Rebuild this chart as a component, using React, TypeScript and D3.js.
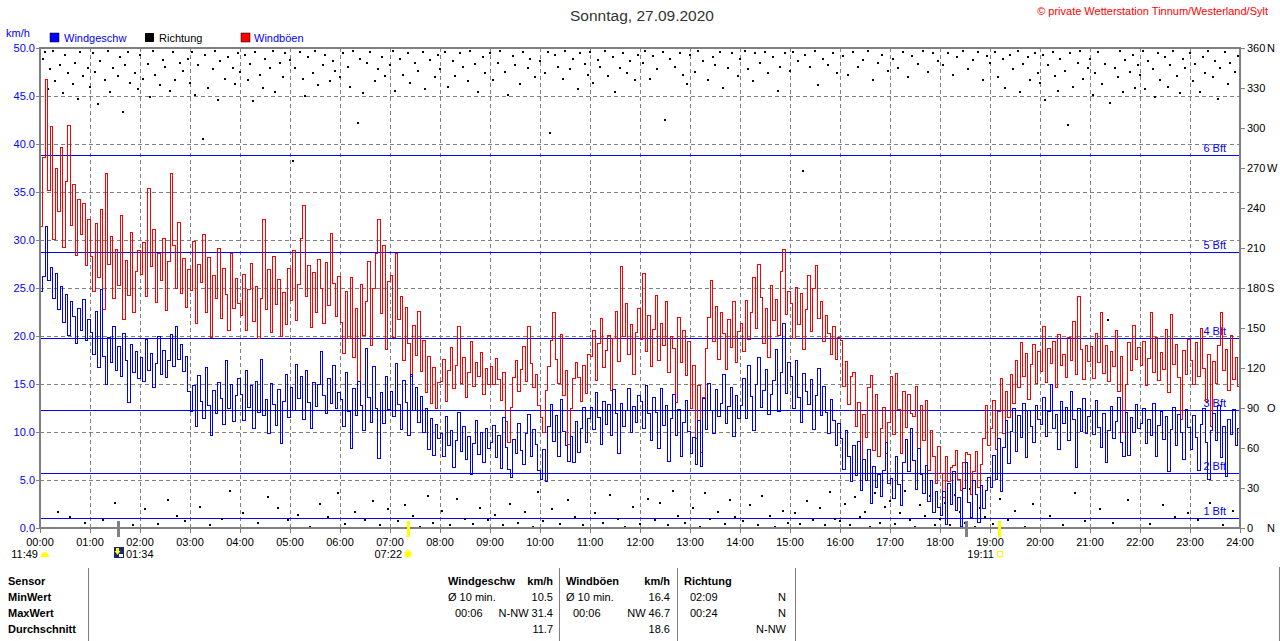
import React from 'react';
import * as d3 from 'd3';

// ---------- data ----------
const stepMinutes = 3;
const hourLabels = ['00:00','01:00','02:00','03:00','04:00','05:00','06:00','07:00','08:00','09:00','10:00','11:00','12:00','13:00','14:00','15:00','16:00','17:00','18:00','19:00','20:00','21:00','22:00','23:00','24:00'];
const speedTicks = [0, 5, 10, 15, 20, 25, 30, 35, 40, 45, 50];
const dirTicks = [0, 30, 60, 90, 120, 150, 180, 210, 240, 270, 300, 330, 360];
const dirTickLetters = ['N', '', '', 'O', '', '', 'S', '', '', 'W', '', '', 'N'];
const bftValues = [1.08, 5.76, 12.24, 19.8, 28.8, 38.88];
const bftLabels = ['1 Bft', '2 Bft', '3 Bft', '4 Bft', '5 Bft', '6 Bft'];

// wind speed km/h, one value every 3 minutes (20 per hour)
const windSpeed = [
  24.6, 26.2, 31.4, 25.8, 27.1, 23.9, 26.5, 22.8, 25.2, 21.4, 24.3, 20.1, 23.6, 22.0, 19.2, 22.9, 20.6, 23.8, 19.5, 21.7,
  20.4, 18.1, 22.6, 16.7, 24.8, 17.9, 15.0, 19.8, 17.2, 21.0, 16.4, 18.9, 15.8, 20.3, 17.5, 13.1, 19.1, 16.2, 18.4, 15.6,
  17.8, 15.3, 19.6, 16.4, 18.2, 14.6, 17.1, 19.9, 16.0, 18.5, 15.7, 17.4, 20.2, 16.8, 21.0, 17.6, 19.1, 16.3, 17.9, 14.2,
  12.1, 14.8, 10.6, 15.9, 13.2, 11.4, 16.7, 12.8, 9.6, 14.3, 11.9, 15.2, 13.5, 10.8, 17.4, 12.4, 14.9, 11.1, 13.8, 15.6,
  13.9, 11.2, 16.4, 12.6, 14.8, 10.4, 15.3, 12.0, 17.6, 11.7, 13.4, 9.8, 15.1, 12.9, 10.7, 14.4, 8.8, 13.2, 16.0, 11.5,
  14.6, 12.2, 17.0, 13.5, 15.8, 11.3, 16.4, 13.1, 10.4, 15.2, 12.7, 14.9, 18.4, 13.8, 11.9, 15.6, 13.0, 16.9, 12.4, 14.1,
  13.4, 10.6, 16.2, 12.1, 8.3, 14.5, 11.7, 15.3, 12.8, 10.2, 18.7, 13.6, 11.0, 16.8, 12.5, 7.2, 14.1, 10.9, 15.8, 12.3,
  14.2, 11.6, 17.1, 12.9, 10.3, 15.4, 13.1, 9.6, 16.0, 12.2, 14.6, 11.0, 13.7, 9.9, 12.5, 8.2, 11.4, 7.6, 10.8, 9.3,
  9.8, 7.4, 11.6, 8.6, 10.2, 6.3, 9.1, 12.0, 8.0, 10.6, 7.1, 9.5, 5.6, 8.8, 11.2, 7.7, 9.9, 6.8, 10.4, 8.3,
  8.9, 10.7, 7.3, 9.6, 6.2, 11.5, 8.4, 6.1, 5.3, 9.2, 7.8, 10.9, 8.1, 6.6, 9.8, 11.8, 7.5, 10.3, 8.7, 6.0,
  5.1, 8.2, 4.8, 10.6, 12.9, 9.0, 11.7, 7.4, 13.4, 10.1, 8.6, 6.9, 9.5, 6.8, 11.1, 7.9, 10.4, 12.6, 8.9, 11.4,
  12.6, 10.3, 14.1, 11.5, 8.7, 13.2, 10.8, 12.9, 9.6, 14.4, 11.9, 7.8, 13.0, 10.6, 12.2, 14.5, 9.9, 12.7, 11.0, 13.8,
  13.2, 10.4, 14.8, 11.9, 9.1, 13.6, 12.0, 8.3, 14.5, 10.7, 12.8, 6.9, 11.4, 13.9, 9.6, 12.3, 7.5, 11.0, 13.3, 10.1,
  7.8, 9.4, 6.6, 11.2, 6.4, 13.5, 10.3, 15.1, 12.2, 9.8, 14.4, 11.6, 13.0, 16.0, 10.9, 12.7, 14.6, 9.5, 13.8, 11.4,
  12.8, 15.6, 11.4, 16.9, 13.7, 10.2, 15.0, 17.8, 12.6, 14.3, 16.5, 11.8, 13.9, 15.4, 18.6, 12.1, 16.2, 21.3, 14.0, 17.2,
  15.8, 12.4, 17.4, 13.6, 11.0, 16.1, 14.2, 12.9, 15.5, 10.3, 13.8, 16.6, 11.7, 14.7, 12.0, 9.8, 13.4, 11.2, 8.6, 10.9,
  9.3, 6.1, 10.2, 7.4, 4.8, 8.6, 5.5, 9.0, 3.9, 7.1, 5.0, 8.2, 2.6, 6.4, 4.2, 5.6, 3.3, 6.0, 8.9, 4.6,
  5.2, 3.1, 7.4, 4.5, 2.3, 6.8, 9.2, 5.9, 10.4, 7.0, 4.0, 8.3, 5.6, 3.6, 6.5, 2.8, 4.9, 1.6, 3.8, 2.1,
  1.3, 3.8, 0.4, 4.6, 2.5, 5.9, 1.8, 3.2, 0.2, 4.1, 6.8, 2.7, 1.1, 5.0, 3.5, 0.6, 4.4, 2.0, 3.9, 5.3,
  4.2, 7.6, 5.1, 9.3, 3.8, 8.4, 11.2, 6.7, 10.1, 12.5, 8.0, 11.7, 9.4, 13.0, 7.3, 12.2, 10.6, 8.9, 12.8, 11.3,
  10.8, 13.6, 9.5, 12.1, 14.9, 10.4, 11.8, 8.2, 13.2, 10.9, 12.6, 9.1, 14.2, 11.3, 6.3, 12.4, 10.1, 13.5, 9.8, 11.6,
  12.2, 9.7, 13.3, 10.5, 8.4, 11.9, 6.8, 10.2, 12.7, 9.3, 11.1, 13.6, 8.9, 7.4, 12.0, 7.6, 11.5, 9.9, 12.9, 10.4,
  10.9, 12.4, 8.8, 11.3, 9.6, 13.0, 7.4, 10.7, 12.1, 9.2, 11.6, 5.9, 10.3, 12.6, 8.6, 11.8, 9.9, 7.1, 12.3, 10.5,
  8.2, 11.7, 9.4, 6.0, 10.8, 12.5, 8.9, 5.1, 10.2, 11.9, 9.1, 12.8, 7.3, 10.6, 5.4, 11.3, 9.7, 12.3, 8.6, 10.4,
];

// wind gusts km/h, one value every 3 minutes
const windGust = [
  31.4, 38.6, 46.7, 35.2, 41.8, 30.1, 37.4, 33.0, 39.6, 29.2, 36.1, 41.9, 31.5, 35.8, 28.4, 34.2, 30.6, 33.8, 27.3, 32.1,
  28.3, 24.6, 31.7, 26.1, 33.2, 22.8, 36.9, 27.5, 30.4, 23.9, 29.0, 25.3, 32.6, 21.7, 27.9, 24.2, 30.8, 22.5, 26.7, 28.9,
  26.4, 29.7, 24.1, 35.4, 27.2, 31.1, 23.5, 28.6, 25.8, 30.2, 22.7, 27.8, 36.9, 29.4, 25.0, 31.8, 24.4, 28.1, 23.0, 26.9,
  24.7, 29.8, 21.3, 27.4, 25.6, 30.6, 22.5, 28.2, 19.8, 26.3, 23.9, 29.1, 21.8, 27.0, 24.3, 20.6, 28.6, 22.9, 26.0, 23.4,
  22.1, 26.4, 20.6, 24.8, 27.6, 21.5, 25.2, 19.7, 23.9, 32.1, 22.8, 26.9, 20.4, 28.3, 23.3, 25.9, 19.9, 24.5, 21.2, 27.0,
  23.7, 28.9, 21.6, 25.4, 30.2, 33.6, 24.1, 27.3, 20.9, 26.6, 22.4, 28.0, 24.9, 21.3, 27.7, 23.2, 30.7, 25.5, 22.0, 26.2,
  21.4, 18.2, 24.6, 19.7, 26.1, 17.8, 22.9, 15.3, 25.4, 20.1, 23.6, 27.8, 19.0, 24.9, 28.6, 32.1, 22.3, 29.4, 18.6, 25.7,
  26.3, 19.8, 28.6, 21.7, 24.1, 17.4, 23.0, 19.2, 15.8, 21.1, 18.0, 22.6, 16.3, 19.5, 14.1, 17.9, 13.0, 16.7, 12.4, 15.2,
  15.3, 17.6, 13.2, 16.4, 18.8, 14.5, 16.9, 21.0, 15.1, 17.8, 13.6, 16.2, 19.4, 14.7, 17.2, 15.8, 18.3, 13.9, 16.6, 15.0,
  16.8, 14.9, 17.7, 15.5, 13.3, 16.2, 11.1, 8.9, 12.6, 15.7, 17.4, 14.2, 16.5, 18.9, 15.3, 21.0, 17.1, 14.6, 16.0, 12.8,
  11.5, 9.9, 14.3, 16.8, 19.5, 22.4, 17.6, 15.1, 20.2, 13.8, 16.4, 8.7, 12.5, 15.6, 17.2, 15.7, 13.2, 16.9, 14.0, 18.1,
  17.9, 20.6, 15.4, 19.2, 21.8, 16.7, 18.5, 20.1, 14.3, 19.7, 22.6, 17.3, 27.2, 19.9, 23.4, 18.1, 21.2, 16.0, 20.4, 22.9,
  19.6, 26.5, 18.4, 22.1, 16.8, 20.7, 24.2, 17.5, 21.3, 19.0, 23.6, 16.2, 20.0, 18.7, 13.1, 21.9, 17.2, 20.6, 15.9, 19.4,
  12.4, 16.9, 9.3, 14.8, 7.9, 13.6, 18.7, 21.9, 25.8, 19.4, 23.1, 17.6, 22.4, 20.3, 16.5, 21.7, 18.8, 23.6, 17.2, 20.5,
  21.3, 18.4, 23.7, 19.6, 22.5, 26.1, 20.8, 27.4, 24.0, 19.2, 22.9, 17.8, 25.3, 21.6, 23.8, 20.1, 26.7, 29.0, 22.2, 24.6,
  23.4, 19.7, 25.1, 21.2, 24.4, 18.6, 22.8, 26.3, 20.5, 24.9, 27.3, 21.8, 23.6, 19.4, 22.1, 20.3, 18.1, 21.0, 17.6, 19.8,
  19.5, 14.7, 17.3, 12.9, 15.8, 16.2, 10.6, 13.1, 5.0, 11.8, 9.4, 14.6, 15.9, 8.1, 13.9, 7.4, 10.4, 12.6, 7.8, 11.0,
  15.8, 9.7, 16.1, 12.3, 7.8, 14.2, 10.5, 13.9, 11.9, 11.6, 14.7, 8.3, 12.8, 9.1, 13.3, 6.0, 10.2, 7.4, 4.6, 8.5,
  5.7, 3.2, 7.4, 4.8, 6.3, 6.5, 8.1, 5.1, 3.9, 6.8, 7.9, 7.7, 3.5, 5.9, 8.0, 4.2, 6.6, 9.3, 12.8, 8.6,
  10.4, 13.3, 8.2, 12.1, 15.6, 9.8, 14.2, 11.5, 16.0, 13.0, 17.4, 14.6, 19.3, 15.8, 18.2, 13.4, 17.0, 19.1, 15.1, 18.4,
  16.3, 21.0, 15.2, 18.7, 17.1, 19.4, 14.6, 20.2, 16.9, 18.1, 15.7, 19.8, 17.4, 21.5, 16.0, 24.1, 18.6, 15.5, 19.0, 17.3,
  18.9, 15.6, 20.3, 17.2, 22.4, 16.1, 19.0, 15.3, 18.4, 16.8, 20.6, 14.2, 17.9, 9.9, 15.0, 19.3, 16.4, 21.1, 17.6, 18.8,
  16.9, 19.4, 14.8, 17.7, 22.5, 16.2, 19.8, 15.4, 18.3, 16.5, 20.7, 14.1, 22.2, 17.0, 19.1, 15.7, 11.3, 18.5, 16.0, 19.6,
  17.4, 14.9, 19.3, 15.8, 20.8, 16.6, 13.2, 18.1, 10.6, 17.3, 15.1, 19.0, 22.4, 16.4, 18.6, 14.3, 20.1, 15.5, 17.8, 14.7,
];

// wind direction in degrees, one value every 3 minutes
const windDir = [
  338, 352, 357, 329, 344, 358, 335, 12, 347, 326, 355, 341, 8, 333, 349, 322, 357, 339, 4, 345,
  331, 356, 342, 318, 350, 6, 336, 358, 327, 345, 19, 339, 353, 312, 347, 357, 334, 2, 341, 329,
  355, 337, 14, 348, 323, 358, 340, 3, 332, 351, 346, 21, 328, 357, 336, 9, 349, 343, 5, 352,
  334, 357, 325, 347, 16, 292, 355, 330, 2, 344, 358, 321, 350, 7, 337, 353, 28, 345, 333, 356,
  342, 11, 355, 336, 348, 320, 357, 4, 340, 330, 352, 23, 345, 358, 327, 15, 349, 338, 356, 6,
  351, 275, 345, 10, 357, 337, 324, 353, 1, 341, 358, 332, 18, 347, 355, 8, 335, 350, 343, 26,
  338, 356, 3, 346, 331, 358, 12, 304, 352, 326, 6, 349, 357, 20, 335, 344, 2, 353, 339, 14,
  347, 358, 328, 5, 352, 340, 17, 356, 334, 9, 349, 343, 1, 357, 329, 24, 351, 4, 338, 355,
  344, 13, 357, 331, 2, 350, 339, 22, 356, 346, 7, 335, 358, 3, 348, 327, 15, 353, 341, 6,
  356, 336, 10, 349, 358, 2, 342, 325, 18, 354, 347, 4, 333, 357, 12, 345, 352, 1, 338, 27,
  350, 5, 341, 357, 296, 14, 355, 346, 3, 337, 358, 21, 344, 352, 8, 329, 356, 2, 348, 340,
  357, 334, 11, 351, 346, 4, 358, 339, 25, 353, 327, 7, 345, 356, 1, 341, 350, 16, 336, 355,
  3, 349, 358, 22, 337, 354, 6, 344, 19, 357, 306, 2, 352, 28, 346, 9, 356, 340, 4, 333,
  355, 15, 342, 358, 1, 350, 26, 336, 7, 353, 347, 12, 357, 330, 3, 345, 21, 356, 8, 339,
  352, 5, 358, 344, 17, 335, 356, 2, 349, 24, 357, 341, 9, 353, 1, 328, 346, 13, 356, 4,
  343, 357, 11, 350, 3, 268, 355, 20, 346, 6, 358, 332, 15, 352, 2, 347, 27, 356, 7, 341,
  5, 354, 18, 340, 2, 357, 23, 346, 8, 351, 12, 358, 1, 336, 26, 349, 4, 355, 16, 343,
  20, 352, 3, 345, 11, 357, 28, 338, 6, 354, 1, 348, 17, 358, 9, 342, 24, 356, 2, 350,
  7, 347, 19, 356, 2, 340, 25, 353, 12, 358, 4, 344, 29, 351, 1, 357, 15, 336, 8, 354,
  349, 3, 357, 338, 22, 352, 330, 6, 355, 344, 13, 358, 327, 348, 1, 353, 336, 18, 356, 341,
  334, 355, 321, 347, 9, 357, 339, 328, 352, 2, 343, 302, 356, 331, 26, 349, 358, 337, 5, 345,
  352, 325, 341, 357, 14, 333, 348, 156, 319, 4, 345, 338, 358, 327, 351, 21, 342, 355, 330, 347,
  340, 358, 329, 350, 3, 344, 323, 356, 336, 17, 353, 331, 347, 358, 8, 339, 326, 352, 345, 11,
  356, 335, 348, 6, 327, 353, 341, 358, 19, 338, 350, 322, 345, 2, 357, 333, 349, 13, 342, 354,
];

// sun / moon events (minutes of day)
const astroTickMinutes = [94, 442, 1111, 1151];
const astroTickColors = ['#808080', '#FFFF00', '#808080', '#FFFF00'];

const tableRowLabels = ['Sensor', 'MinWert', 'MaxWert', 'Durchschnitt'];
const speedCol = [['Ø 10 min.', '10.5'], ['00:06', 'N-NW 31.4'], ['', '11.7']];
const gustCol = [['Ø 10 min.', '16.4'], ['00:06', 'NW 46.7'], ['', '18.6']];
const dirCol = [['02:09', 'N'], ['00:24', 'N'], ['', 'N-NW']];

// ---------- layout ----------
const W = 1280;
const H = 641;
const L = 40, R = 1240, T = 48, B = 528;
const FONT = '"Liberation Sans", Arial, sans-serif';
const BLUE = '#0000FF';
const GRAY = '#808080';

export default function App() {
  const x = d3.scaleLinear().domain([0, 1440]).range([L, R]);
  const y = d3.scaleLinear().domain([0, 50]).range([B, T]);
  const yd = d3.scaleLinear().domain([0, 360]).range([B, T]);

  const line = d3
    .line<number>()
    .x((_, i) => x(Math.min(i * stepMinutes, 1440)))
    .y((d) => y(d))
    .curve(d3.curveStepAfter);

  const speedPath = line([...windSpeed, windSpeed[windSpeed.length - 1]]) || '';
  const gustPath = line([...windGust, windGust[windGust.length - 1]]) || '';

  const rowY = [585, 601, 617, 633];

  return (
    <svg
      width={W}
      height={H}
      viewBox={`0 0 ${W} ${H}`}
      style={{ position: 'absolute', left: 0, top: 0, background: '#fff', fontFamily: FONT }}
    >
      <rect x={0} y={0} width={W} height={H} fill="#fff" />
      {/* title & copyright */}
      <text x={642} y={21} textAnchor="middle" fontSize={15.5} fill="#333">Sonntag, 27.09.2020</text>
      <text x={1268} y={15} textAnchor="end" fontSize={11} fill="#FF0000">© private Wetterstation Tinnum/Westerland/Sylt</text>

      {/* unit and legend */}
      <text x={6} y={37} fontSize={11} fill={BLUE}>km/h</text>
      <rect x={50} y={33} width={9} height={9} fill={BLUE} stroke="#000" strokeWidth={0.5} />
      <text x={64} y={42} fontSize={11} fill={BLUE}>Windgeschw</text>
      <rect x={145} y={33} width={9} height={9} fill="#000" />
      <text x={159} y={42} fontSize={11} fill="#000">Richtung</text>
      <rect x={241} y={33} width={9} height={9} fill="#FF0000" stroke="#000" strokeWidth={0.5} />
      <text x={254} y={42} fontSize={11} fill={BLUE}>Windböen</text>

      {/* grid */}
      <g stroke={GRAY} strokeWidth={1} strokeDasharray="4 3" shapeRendering="crispEdges">
        {speedTicks.slice(1, -1).map((v) => (
          <line key={`h${v}`} x1={L} x2={R} y1={Math.round(y(v)) + 0.5} y2={Math.round(y(v)) + 0.5} />
        ))}
        {hourLabels.slice(1, -1).map((_, i) => {
          const xx = Math.round(x((i + 1) * 60)) + 0.5;
          return <line key={`v${i}`} x1={xx} x2={xx} y1={T} y2={B} />;
        })}
      </g>

      {/* Beaufort lines */}
      <g shapeRendering="crispEdges">
        {bftValues.map((v, i) => (
          <g key={`b${i}`}>
            <line x1={L} x2={R} y1={Math.round(y(v)) + 0.5} y2={Math.round(y(v)) + 0.5} stroke={BLUE} strokeWidth={1} />
            <text x={1226} y={Math.round(y(v)) - 3} textAnchor="end" fontSize={11} fill={BLUE}>{bftLabels[i]}</text>
          </g>
        ))}
      </g>

      {/* direction dots */}
      <g fill="#000" shapeRendering="crispEdges">
        {windDir.map((v, i) => (
          <rect key={`d${i}`} x={Math.round(x(i * stepMinutes)) - 1} y={Math.round(yd(v)) - 1} width={2} height={2} />
        ))}
      </g>

      {/* gust and speed lines */}
      <path d={gustPath} fill="none" stroke="#FF0000" strokeWidth={1} shapeRendering="crispEdges" />
      <path d={speedPath} fill="none" stroke={BLUE} strokeWidth={1} shapeRendering="crispEdges" />

      {/* frame */}
      <g stroke={GRAY} strokeWidth={2} shapeRendering="crispEdges" fill="none">
        <line x1={L - 1} x2={R + 1} y1={T} y2={T} />
        <line x1={L - 1} x2={R + 1} y1={B} y2={B} />
        <line x1={L} x2={L} y1={T} y2={B + 1} />
        <line x1={R} x2={R} y1={T} y2={B + 1} />
      </g>

      {/* left axis */}
      {speedTicks.map((v) => (
        <g key={`lt${v}`}>
          <line x1={36} x2={L} y1={Math.round(y(v)) + 0.5} y2={Math.round(y(v)) + 0.5} stroke={GRAY} shapeRendering="crispEdges" />
          <text x={35} y={y(v) + 4} textAnchor="end" fontSize={11} fill={BLUE}>{v.toFixed(1)}</text>
        </g>
      ))}

      {/* right axis */}
      {dirTicks.map((v, i) => (
        <g key={`rt${v}`}>
          <line x1={R} x2={R + 5} y1={Math.round(yd(v)) + 0.5} y2={Math.round(yd(v)) + 0.5} stroke={GRAY} shapeRendering="crispEdges" />
          <text x={R + 7} y={yd(v) + 4} fontSize={11} fill="#000">{v}</text>
          {dirTickLetters[i] && (
            <text x={1267} y={yd(v) + 4} fontSize={11} fill="#000">{dirTickLetters[i]}</text>
          )}
        </g>
      ))}

      {/* x axis */}
      {hourLabels.map((h, i) => {
        const xx = Math.round(x(i * 60)) + 0.5;
        return (
          <g key={`x${i}`}>
            <line x1={xx} x2={xx} y1={B} y2={B + 5} stroke={GRAY} shapeRendering="crispEdges" />
            <text x={x(i * 60)} y={546} textAnchor="middle" fontSize={11} fill="#000">{h}</text>
          </g>
        );
      })}

      {/* sun / moon ticks */}
      {astroTickMinutes.map((m, i) => (
        <line key={`a${i}`} x1={Math.round(x(m)) + 0.5} x2={Math.round(x(m)) + 0.5} y1={521} y2={537} stroke={astroTickColors[i]} strokeWidth={3} shapeRendering="crispEdges" />
      ))}
      {/* 11:49 */}
      <text x={38} y={558} textAnchor="end" fontSize={11} fill="#000">11:49</text>
      <path d="M41,557 L41,555 Q45,549 49,555 L49,557 Z" fill="#FFFF00" />
      {/* 01:34 */}
      <rect x={114} y={547} width={10} height={11} fill="#1a237e" />
      <path d="M116,548 L119,548 L119,551 L120.5,551 L117.5,555 L114.5,551 L116,551 Z" fill="#FFFF00" />
      <rect x={119} y={554} width={4} height={3} fill="#fff" />
      <text x={126} y={558} fontSize={11} fill="#000">01:34</text>
      {/* 07:22 */}
      <text x={402} y={558} textAnchor="end" fontSize={11} fill="#000">07:22</text>
      <circle cx={408} cy={554} r={4.5} fill="#FFFFA0" />
      <circle cx={408} cy={554} r={3} fill="#FFFF00" />
      {/* 19:11 */}
      <text x={994} y={558} textAnchor="end" fontSize={11} fill="#000">19:11</text>
      <rect x={997.5} y={551.5} width={5} height={5} fill="none" stroke="#FFFF00" strokeWidth={1} />

      {/* summary table */}
      <g stroke={GRAY} strokeWidth={1} shapeRendering="crispEdges">
        <line x1={88.5} x2={88.5} y1={568} y2={641} />
        <line x1={559.5} x2={559.5} y1={568} y2={641} />
        <line x1={677.5} x2={677.5} y1={568} y2={641} />
        <line x1={795.5} x2={795.5} y1={568} y2={641} />
        <line x1={1279.5} x2={1279.5} y1={567} y2={641} />
      </g>
      {tableRowLabels.map((t, i) => (
        <text key={`rl${i}`} x={8} y={rowY[i]} fontSize={11} fontWeight="bold" fill="#000">{t}</text>
      ))}
      <text x={448} y={rowY[0]} fontSize={11} fontWeight="bold" fill="#000">Windgeschw</text>
      <text x={553} y={rowY[0]} fontSize={11} fontWeight="bold" fill="#000" textAnchor="end">km/h</text>
      <text x={566} y={rowY[0]} fontSize={11} fontWeight="bold" fill="#000">Windböen</text>
      <text x={670} y={rowY[0]} fontSize={11} fontWeight="bold" fill="#000" textAnchor="end">km/h</text>
      <text x={684} y={rowY[0]} fontSize={11} fontWeight="bold" fill="#000">Richtung</text>
      {speedCol.map((r, i) => (
        <g key={`sc${i}`}>
          <text x={i === 0 ? 448 : 455} y={rowY[i + 1]} fontSize={11} fill="#000">{r[0]}</text>
          <text x={553} y={rowY[i + 1]} fontSize={11} fill="#000" textAnchor="end">{r[1]}</text>
        </g>
      ))}
      {gustCol.map((r, i) => (
        <g key={`gc${i}`}>
          <text x={i === 0 ? 566 : 573} y={rowY[i + 1]} fontSize={11} fill="#000">{r[0]}</text>
          <text x={670} y={rowY[i + 1]} fontSize={11} fill="#000" textAnchor="end">{r[1]}</text>
        </g>
      ))}
      {dirCol.map((r, i) => (
        <g key={`dc${i}`}>
          <text x={690} y={rowY[i + 1]} fontSize={11} fill="#000">{r[0]}</text>
          <text x={786} y={rowY[i + 1]} fontSize={11} fill="#000" textAnchor="end">{r[1]}</text>
        </g>
      ))}
    </svg>
  );
}
